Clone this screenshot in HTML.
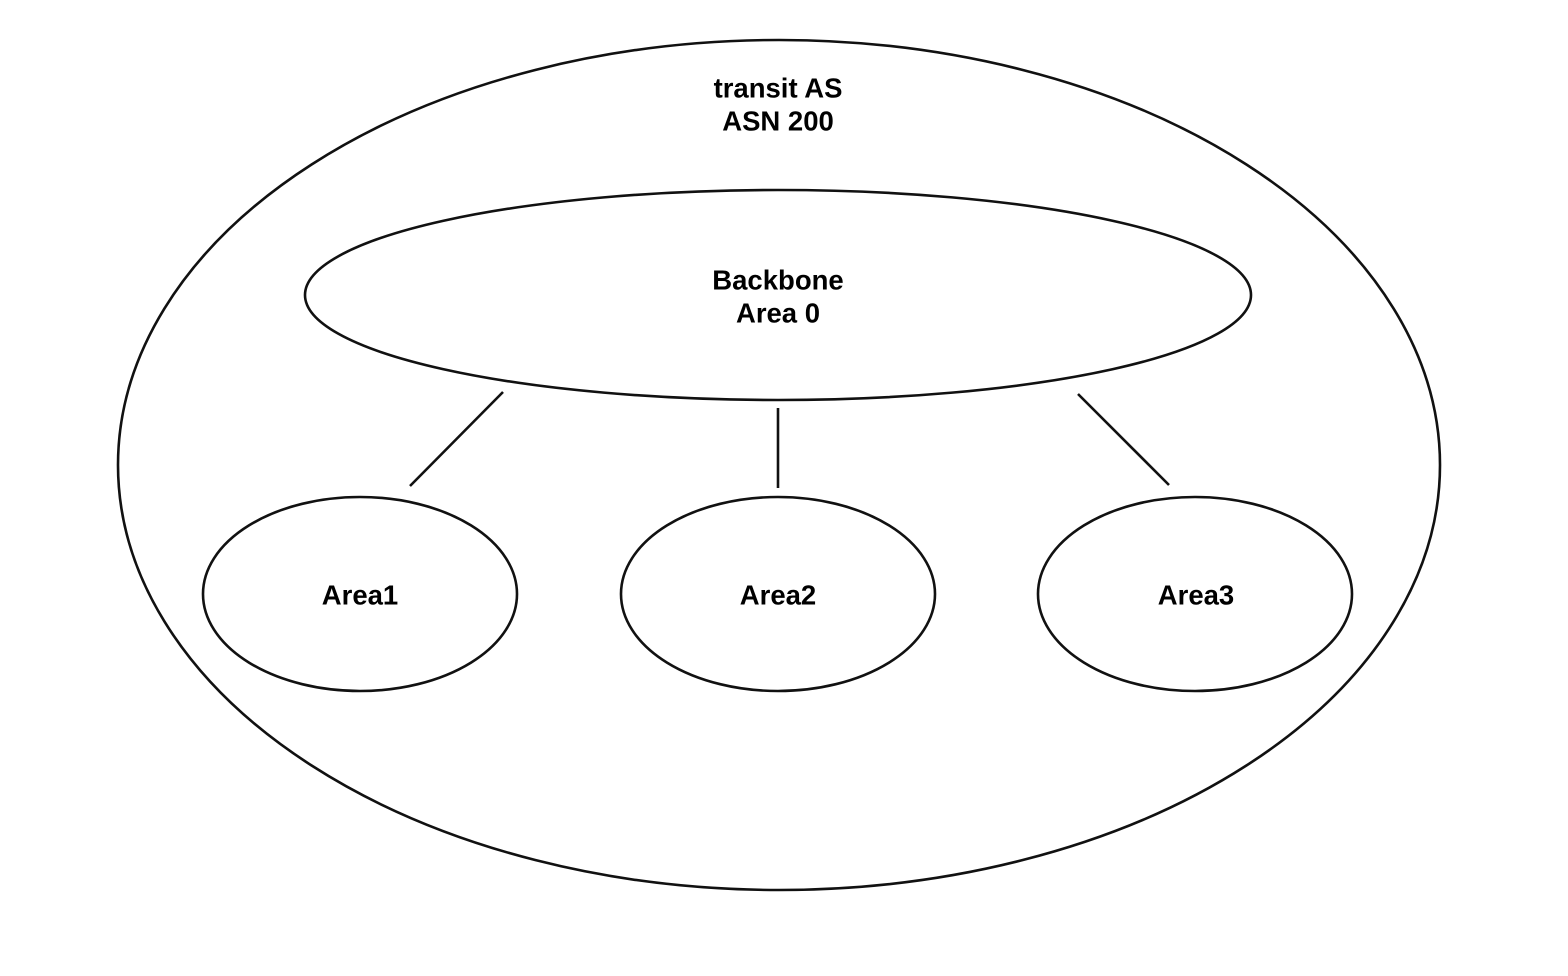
<!DOCTYPE html>
<html><head><meta charset="utf-8"><style>
html,body{margin:0;padding:0;background:#fff;}
svg{display:block;}
text{font-family:"Liberation Sans",Arial,sans-serif;font-weight:bold;font-size:27.5px;fill:#000;text-anchor:middle;dominant-baseline:central;}
</style></head><body>
<svg width="1568" height="976" viewBox="0 0 1568 976" xmlns="http://www.w3.org/2000/svg">
<g fill="none" stroke="#111" stroke-width="2.6">
<ellipse cx="779" cy="465" rx="661" ry="425"/>
<ellipse cx="778" cy="295" rx="473" ry="105"/>
<ellipse cx="360" cy="594" rx="157" ry="97"/>
<ellipse cx="778" cy="594" rx="157" ry="97"/>
<ellipse cx="1195" cy="594" rx="157" ry="97"/>
<line x1="503" y1="392" x2="410" y2="486"/>
<line x1="778" y1="408" x2="778" y2="488"/>
<line x1="1078" y1="394" x2="1169" y2="485"/>
</g>
<text x="778" y="88">transit AS</text>
<text x="778" y="121">ASN 200</text>
<text x="778" y="280">Backbone</text>
<text x="778" y="313">Area 0</text>
<text x="360" y="595">Area1</text>
<text x="778" y="595">Area2</text>
<text x="1196" y="595">Area3</text>
</svg>
</body></html>
